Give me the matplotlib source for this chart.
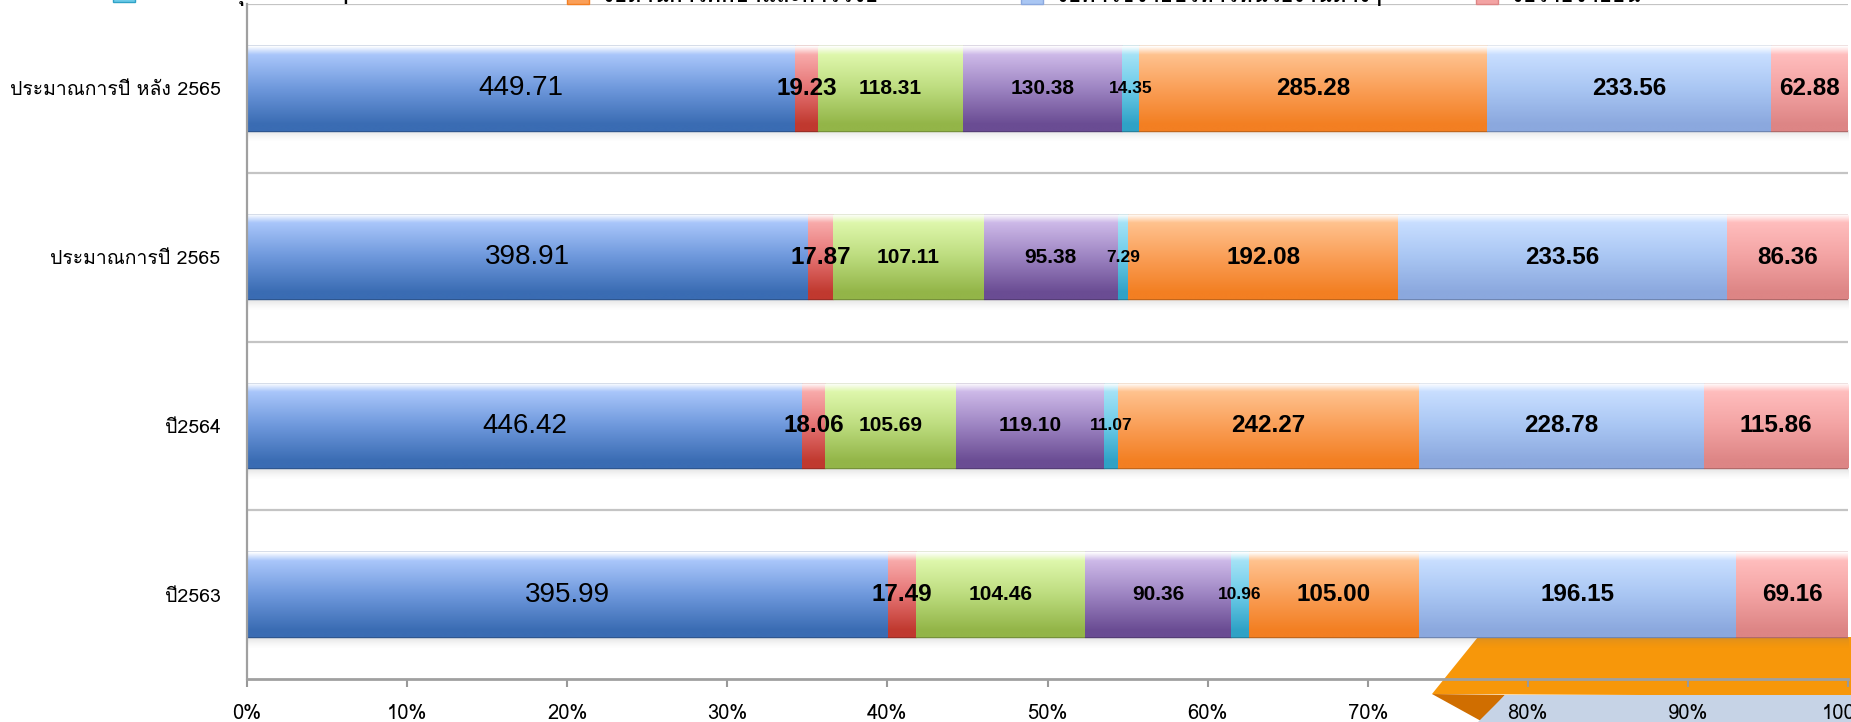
import numpy as np
import matplotlib
matplotlib.use('Agg')
import matplotlib.pyplot as plt
from matplotlib.colors import LinearSegmentedColormap, to_rgb
from matplotlib.patches import Polygon, Patch

# ปีงบประมาณ (ล่างขึ้นบน)
years = ['ปี2563', 'ปี2564', 'ประมาณการปี 2565', 'ประมาณการปี หลัง 2565']

# วงเงินแต่ละหมวด (ล้านบาท)
personnel = [395.99, 446.42, 398.91, 449.71]
invest = [17.49, 18.06, 17.87, 19.23]
operate = [104.46, 105.69, 107.11, 118.31]
subsidy = [90.36, 119.10, 95.38, 130.38]
support = [10.96, 11.07, 7.29, 14.35]
education = [105.00, 242.27, 192.08, 285.28]
admin = [196.15, 228.78, 233.56, 233.56]
other = [69.16, 115.86, 86.36, 62.88]

names = ['งบบุคลากร', 'งบลงทุน', 'งบดำเนินงาน', 'งบเงินอุดหนุน',
         'งบสนับสนุนงานต่างๆ', 'งบด้านการศึกษาและการวิจัย',
         'งบค่าใช้จ่ายบริหารหน่วยงานต่างๆ', 'งบรายจ่ายอื่น']

series = [personnel, invest, operate, subsidy, support, education, admin, other]

# สีไล่เฉด (ล่าง, กลาง, บน)
shades = [('#3A6CB3', '#6E98DC', '#A9C6FA'),
          ('#C0392F', '#E57373', '#F8AAAA'),
          ('#93B548', '#BCDC7E', '#DEF7AC'),
          ('#6A4C93', '#9D84C2', '#CDB9E8'),
          ('#2FA2C6', '#6CCBE8', '#A4E2F6'),
          ('#F37F22', '#FA9F58', '#FFC28E'),
          ('#8BA8DE', '#A9C6F3', '#C8DEFF'),
          ('#DD8585', '#F3A3A3', '#FFBDBD')]

# ขนาดและน้ำหนักตัวเลขบนแท่ง
lab_size = [20, 17.5, 15, 15, 12.5, 17.5, 17.5, 17.5]
lab_weight = ['normal'] + ['bold'] * 7

W, H = 1851, 722
fig = plt.figure(figsize=(W / 100, H / 100), dpi=100)

# แถบตกแต่งด้านล่างขวา
def px(pts):
    return [(x / W, 1 - y / H) for x, y in pts]

fig.patches.append(Polygon(px([(1478, 637), (1851, 637), (1851, 696), (1432, 694)]),
                           closed=True, transform=fig.transFigure, fc='#F7970A', ec='none', zorder=-3))
fig.patches.append(Polygon(px([(1432, 694), (1505, 695), (1481, 721)]),
                           closed=True, transform=fig.transFigure, fc='#D06E00', ec='none', zorder=-2))
fig.patches.append(Polygon(px([(1505, 695), (1851, 695), (1851, 722), (1478, 722)]),
                           closed=True, transform=fig.transFigure, fc='#C6D3E6', ec='none', zorder=-2))

ax = fig.add_axes([247 / W, 1 - 679 / H, (1848 - 247) / W, (679 - 4) / H])
ax.patch.set_facecolor('none')

data = np.array(series)
pct = data / data.sum(axis=0) * 100
y = np.arange(len(years))
left = np.zeros(len(years))
grad = np.linspace(0, 1, 256).reshape(-1, 1)

# เงาใต้แท่ง
shadow = np.zeros((64, 1, 4))
shadow[..., :3] = 0.45
shadow[:, 0, 3] = np.linspace(0, 0.35, 64) ** 1.5
for yi in y:
    ax.imshow(shadow, extent=[0, 100, yi - 0.25 - 0.07, yi - 0.25], origin='lower',
              aspect='auto', zorder=1.5, interpolation='bilinear')

for k, vals in enumerate(series):
    bot, mid, top = shades[k]
    cm = LinearSegmentedColormap.from_list('s%d' % k, [(0, bot), (0.08, bot), (0.5, mid),
                                                       (0.9, top), (1, '#FFFFFF')])
    edge = tuple(c * 0.8 for c in to_rgb(bot))
    bars = ax.barh(y, pct[k], left=left, height=0.5, color=mid, edgecolor=edge,
                   linewidth=1.0, zorder=2)
    for b in bars:
        im = ax.imshow(grad, extent=[b.get_x(), b.get_x() + b.get_width(),
                                     b.get_y(), b.get_y() + b.get_height()],
                       origin='lower', aspect='auto', cmap=cm, zorder=2.5,
                       interpolation='bilinear')
        im.set_clip_path(b)
    for b, v in zip(bars, vals):
        ax.text(b.get_x() + b.get_width() / 2, b.get_y() + b.get_height() / 2,
                '%.2f' % v, ha='center', va='center', fontsize=lab_size[k],
                fontweight=lab_weight[k], family='Liberation Sans', zorder=4)
    left += pct[k]

ax.set_xlim(0, 100)
ax.set_ylim(-0.5, len(years) - 0.5)

ax.set_yticks(y)
ax.set_yticklabels(years, family='Loma', fontsize=14)
ax.set_yticks(y + 0.5, minor=True)
ax.tick_params(axis='y', which='both', length=0, pad=19)
ax.grid(which='minor', axis='y', color='#C4C4C4', lw=1.6, zorder=0)

ax.set_xticks(np.arange(0, 101, 10))
ax.set_xticklabels(['%d%%' % v for v in range(0, 101, 10)], family='Loma', fontsize=14.5)
ax.tick_params(axis='x', direction='out', length=6, width=1.5, color='#999999', pad=12)

for s in ['top', 'right']:
    ax.spines[s].set_visible(False)
ax.spines['left'].set_color('#A0A0A0')
ax.spines['bottom'].set_color('#A0A0A0')
ax.spines['left'].set_linewidth(1.6)
ax.spines['bottom'].set_linewidth(2.0)

# คำอธิบายสัญลักษณ์ (แถวล่างบางส่วนพ้นขอบภาพ)
col_x = [113, 567, 1021, 1476]
for c in range(4):
    hs = [Patch(facecolor=shades[i][1], edgecolor=shades[i][0]) for i in (c, c + 4)]
    fig.legend(hs, [names[c], names[c + 4]], loc='lower left', ncol=1,
               bbox_to_anchor=(col_x[c] / W, 1 - 6 / H), frameon=False,
               borderpad=0, borderaxespad=0, handlelength=1.0, handleheight=1.0,
               handletextpad=0.6, labelspacing=0.3,
               prop={'family': 'Loma', 'weight': 'bold', 'size': 16})

fig.savefig('out.png', dpi=100)
